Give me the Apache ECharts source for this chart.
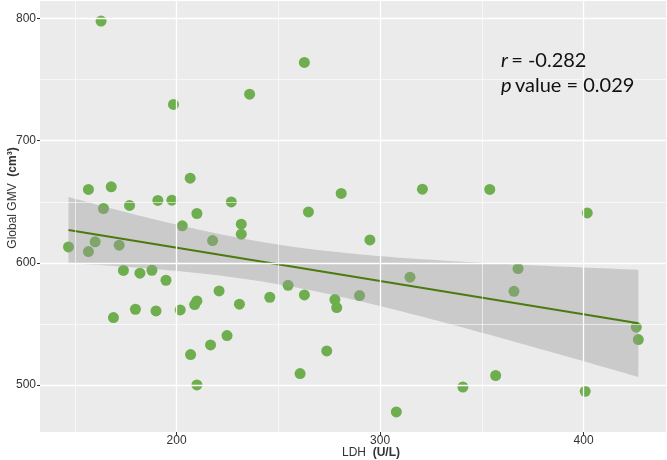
<!DOCTYPE html>
<html>
<head>
<meta charset="utf-8">
<script src="https://cdn.jsdelivr.net/npm/echarts@6/dist/echarts.min.js"></script>
<style>html,body{margin:0;padding:0;background:#fff}#c{width:667px;height:460px}</style>
</head>
<body>
<div id="c"></div>
<script>
// LDH (U/L)
var ldh = [146.9,156.7,156.7,160.0,162.9,164.1,167.9,169.0,171.8,173.9,176.9,179.8,182.0,187.9,189.9,190.8,194.8,197.7,198.5,201.8,202.8,206.7,206.9,208.9,210.0,210.0,210.0,216.7,217.7,220.9,224.8,226.9,230.9,231.8,231.8,235.9,245.8,254.8,260.7,262.8,262.8,264.8,273.8,277.8,278.7,280.9,289.9,295.0,308.0,314.7,320.8,340.7,353.9,356.8,365.8,367.8,400.8,401.8,425.9,426.9];
// Global GMV (cm3)
var gmv = [613.1,660.1,609.3,617.2,797.8,644.5,662.2,555.3,614.5,593.8,647.0,562.1,591.6,594.0,560.7,651.1,585.8,651.3,729.6,561.5,630.3,669.3,525.0,565.9,568.9,640.4,500.2,532.9,618.3,577.1,540.6,649.9,566.2,631.7,623.5,738.0,571.9,581.7,509.5,764.0,573.8,641.7,528.0,570.0,563.5,656.8,573.3,618.8,478.1,588.3,660.3,498.5,660.1,507.9,576.8,595.4,495.0,640.9,547.4,537.3];
var xTicks = [200, 300, 400];
var yTicks = [500, 600, 700, 800];
var xGrid = [150, 200, 250, 300, 350, 400];
var yGrid = [500, 550, 600, 650, 700, 750, 800];
var statR = '-0.282';
var statP = '0.029';

// linear fit + 95% CI (like geom_smooth(method = "lm"))
var n = ldh.length, mx = 0, my = 0;
for (var i = 0; i < n; i++) { mx += ldh[i]; my += gmv[i]; }
mx /= n; my /= n;
var sxx = 0, sxy = 0;
for (i = 0; i < n; i++) { sxx += (ldh[i]-mx)*(ldh[i]-mx); sxy += (ldh[i]-mx)*(gmv[i]-my); }
var b = sxy / sxx, a = my - b*mx;
var sse = 0;
for (i = 0; i < n; i++) { var r = gmv[i] - (a + b*ldh[i]); sse += r*r; }
var s = Math.sqrt(sse/(n-2)), tcrit = 2.0017;
var xmin = Math.min.apply(null, ldh), xmax = Math.max.apply(null, ldh);
var upper = [], lower = [];
for (i = 0; i <= 80; i++) {
  var xv = xmin + (xmax - xmin) * i / 80;
  var f = a + b*xv, hw = tcrit * s * Math.sqrt(1/n + (xv-mx)*(xv-mx)/sxx);
  upper.push([xv, f + hw]); lower.push([xv, f - hw]);
}
var pts = ldh.map(function (x, k) { return [x, gmv[k]]; });

var major = {color: '#ffffff', width: 1.3, type: 'solid'};
var minor = {color: '#ffffff', width: 0.6, type: 'solid'};
var gridLines = [];
xGrid.forEach(function (v) { gridLines.push({xAxis: v, lineStyle: (v % 100 === 0) ? major : minor}); });
yGrid.forEach(function (v) { gridLines.push({yAxis: v, lineStyle: (v % 100 === 0) ? major : minor}); });

var chart = echarts.init(document.getElementById('c'), null, {renderer: 'canvas'});
chart.setOption({
  animation: false,
  backgroundColor: '#ffffff',
  grid: {left: 40, right: 1, top: 1, bottom: 28, show: true, backgroundColor: '#EBEBEB', borderWidth: 0},
  xAxis: {
    type: 'value', min: 132.9, max: 440.5,
    axisLine: {show: false},
    splitLine: {show: false},
    axisTick: {show: true, length: 3, lineStyle: {color: '#333', width: 1}, customValues: xTicks},
    axisLabel: {customValues: xTicks, color: '#333', fontSize: 12, fontFamily: 'Liberation Sans', margin: 3}
  },
  yAxis: {
    type: 'value', min: 461.7, max: 814.2,
    axisLine: {show: false},
    splitLine: {show: false},
    axisTick: {show: true, length: 3, lineStyle: {color: '#333', width: 1}, customValues: yTicks},
    axisLabel: {customValues: yTicks, color: '#333', fontSize: 12, fontFamily: 'Liberation Sans', margin: 4}
  },
  series: [
    {type: 'line', data: [], z: 0, silent: true,
     markLine: {silent: true, symbol: 'none', label: {show: false}, animation: false, data: gridLines}},
    {type: 'scatter', data: pts, symbolSize: 11, z: 2,
     itemStyle: {color: '#6fae4f', opacity: 1}},
    {type: 'custom', z: 3, silent: true, data: [[xmin, upper[0][1]]],
     renderItem: function (params, api) {
       var poly = upper.map(function (p) { return api.coord(p); });
       for (var j = lower.length - 1; j >= 0; j--) poly.push(api.coord(lower[j]));
       return {type: 'polygon', shape: {points: poly}, style: {fill: 'rgba(153,153,153,0.4)'}};
     }},
    {type: 'line', z: 4, silent: true, symbol: 'none',
     data: [[xmin, a + b*xmin], [xmax, a + b*xmax]],
     lineStyle: {color: '#4b7a10', width: 2}}
  ],
  graphic: [
    {type: 'text', x: 13, y: 198, rotation: Math.PI/2, z: 10,
     style: {text: '{n|Global GMV}  {b|(cm³)}', align: 'center', verticalAlign: 'middle',
       rich: {n: {fontSize: 12, fontFamily: 'Liberation Sans', fill: '#333'},
              b: {fontSize: 12, fontFamily: 'Liberation Sans', fontWeight: 'bold', fill: '#333'}}}},
    {type: 'text', x: 371, y: 453, z: 10,
     style: {text: '{n|LDH}  {b|(U/L)}', align: 'center', verticalAlign: 'middle',
       rich: {n: {fontSize: 12, fontFamily: 'Liberation Sans', fill: '#333'},
              b: {fontSize: 12, fontFamily: 'Liberation Sans', fontWeight: 'bold', fill: '#333'}}}},
    {type: 'text', x: 501, y: 61, z: 10,
     style: {text: '{i|r} {n|= ' + statR + '}', align: 'left', verticalAlign: 'middle',
       rich: {i: {fontSize: 20, fontFamily: 'Lato', fontStyle: 'italic', fill: '#111'},
              n: {fontSize: 20, fontFamily: 'Lato', fill: '#111'}}}},
    {type: 'text', x: 501, y: 86, z: 10,
     style: {text: '{i|p} {n|value = ' + statP + '}', align: 'left', verticalAlign: 'middle',
       rich: {i: {fontSize: 20, fontFamily: 'Lato', fontStyle: 'italic', fill: '#111'},
              n: {fontSize: 20, fontFamily: 'Lato', fill: '#111'}}}}
  ]
});
</script>
</body>
</html>
